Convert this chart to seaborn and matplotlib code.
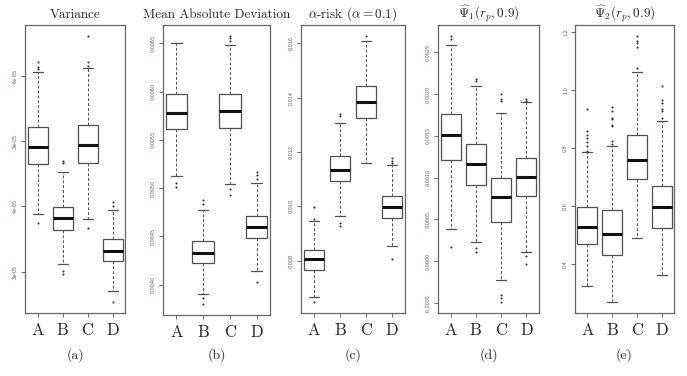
import numpy as np
import pandas as pd
import matplotlib.pyplot as plt
import seaborn as sns

groups = ["A", "B", "C", "D"]

# five-number summaries:
# lower whisker, Q1, median, Q3, upper whisker (one row per group A-D)
var_box = [[3.88e-5, 4.65e-5, 4.91e-5, 5.21e-5, 6.06e-5],
           [3.12e-5, 3.64e-5, 3.82e-5, 3.99e-5, 4.53e-5],
           [3.80e-5, 4.66e-5, 4.93e-5, 5.24e-5, 6.11e-5],
           [2.71e-5, 3.17e-5, 3.32e-5, 3.50e-5, 3.94e-5]]
var_out = [[6.20e-5, 6.13e-5, 6.10e-5, 3.75e-5],
           [4.69e-5, 4.66e-5, 3.005e-5, 2.97e-5],
           [6.61e-5, 6.20e-5, 6.15e-5, 3.66e-5],
           [4.06e-5, 4.01e-5, 2.53e-5]]

mad_box = [[0.005121, 0.005617, 0.005776, 0.005976, 0.006500],
           [0.003900, 0.004224, 0.004331, 0.004452, 0.004776],
           [0.005045, 0.005628, 0.005803, 0.005976, 0.006486],
           [0.004138, 0.004483, 0.004597, 0.004707, 0.005052]]
mad_out = [[0.005052, 0.005010],
           [0.004879, 0.004831, 0.003862, 0.003797],
           [0.006579, 0.006552, 0.006528, 0.004993, 0.004924],
           [0.005166, 0.005138, 0.005097, 0.004028]]

risk_box = [[0.006671, 0.007671, 0.008049, 0.008390, 0.009451],
            [0.009634, 0.010915, 0.011341, 0.011854, 0.013073],
            [0.011585, 0.013256, 0.013841, 0.014415, 0.016098],
            [0.008537, 0.009573, 0.009976, 0.010366, 0.011537]]
risk_out = [[0.009976, 0.009537, 0.006463],
            [0.013378, 0.013305, 0.009366, 0.009268],
            [0.016280],
            [0.011768, 0.011659, 0.011590, 0.008073]]

psi1_box = [[0.000380, 0.001208, 0.001510, 0.001767, 0.002591],
            [0.000234, 0.000915, 0.001169, 0.001406, 0.002092],
            [-0.000226, 0.000471, 0.000765, 0.000994, 0.001775],
            [0.000115, 0.000777, 0.001002, 0.001232, 0.001906]]
psi1_out = [[0.002698, 0.002658, 0.000170],
            [0.002183, 0.002155, 0.000162, 0.000115],
            [0.001997, 0.001945, 0.001918, -0.000400, -0.000440, -0.000491],
            [0.001937, 0.001914, 0.0000633, -0.0000357]]

psi2_box = [[0.325, 0.471, 0.530, 0.597, 0.787],
            [0.269, 0.433, 0.504, 0.589, 0.808],
            [0.490, 0.693, 0.760, 0.845, 1.065],
            [0.365, 0.525, 0.599, 0.671, 0.894]]
psi2_out = [[0.936, 0.859, 0.848, 0.835, 0.822, 0.810, 0.791],
            [0.942, 0.928, 0.905, 0.900, 0.882, 0.876, 0.825, 0.814],
            [1.189, 1.170, 1.162, 1.151, 1.077],
            [1.016, 0.968, 0.957, 0.937, 0.930, 0.905]]

titles = ["Variance", "Mean Absolute Deviation", r"$\alpha$-risk ($\alpha = 0.1$)",
          r"$\widehat{\Psi}_1(r_p, 0.9)$", r"$\widehat{\Psi}_2(r_p, 0.9)$"]
panel_labels = ["(a)", "(b)", "(c)", "(d)", "(e)"]

var_ticks = [3e-5, 4e-5, 5e-5, 6e-5]
var_ticklabels = ["3e-05", "4e-05", "5e-05", "6e-05"]
mad_ticks = [0.0040, 0.0045, 0.0050, 0.0055, 0.0060, 0.0065]
mad_ticklabels = ["0.0040", "0.0045", "0.0050", "0.0055", "0.0060", "0.0065"]
risk_ticks = [0.008, 0.010, 0.012, 0.014, 0.016]
risk_ticklabels = ["0.008", "0.010", "0.012", "0.014", "0.016"]
psi1_ticks = [-0.0005, 0.0, 0.0005, 0.0010, 0.0015, 0.0020, 0.0025]
psi1_ticklabels = ["-0.0005", "0.0000", "0.0005", "0.0010", "0.0015", "0.0020", "0.0025"]
psi2_ticks = [0.4, 0.6, 0.8, 1.0, 1.2]
psi2_ticklabels = ["0.4", "0.6", "0.8", "1.0", "1.2"]


def to_frame(rows):
    recs = []
    for g, vals in zip(groups, rows):
        for v in vals:
            recs.append({"group": g, "value": v})
    return pd.DataFrame(recs)


def main():
    sns.set_style("ticks")
    plt.rcParams['font.family'] = ['cmr10', 'DejaVu Serif']
    plt.rcParams['mathtext.fontset'] = 'cm'
    plt.rcParams['axes.unicode_minus'] = False

    fig = plt.figure(figsize=(6.87, 3.76), dpi=100)

    # axes boxes in pixels: left, top, right, bottom
    boxes = [(25, 25, 125, 313), (163, 25, 270, 315), (301, 25, 405, 313),
             (438, 25, 539, 313), (575, 25, 674, 313)]
    panels = [(var_box, var_out, var_ticks, var_ticklabels),
              (mad_box, mad_out, mad_ticks, mad_ticklabels),
              (risk_box, risk_out, risk_ticks, risk_ticklabels),
              (psi1_box, psi1_out, psi1_ticks, psi1_ticklabels),
              (psi2_box, psi2_out, psi2_ticks, psi2_ticklabels)]

    W, H = 687, 376
    line_col = "#505050"
    for i, (box, out, ticks, ticklabels) in enumerate(panels):
        l, t, r, b = boxes[i]
        ax = fig.add_axes([l / W, 1 - b / H, (r - l) / W, (b - t) / H])

        box_df = to_frame(box)
        out_df = to_frame(out)

        sns.boxplot(data=box_df, x="group", y="value", order=groups, ax=ax,
                    whis=(0, 100), width=0.8, color="white", linecolor=line_col,
                    linewidth=0.9, showfliers=False,
                    medianprops=dict(color="#111111", linewidth=2.2),
                    whiskerprops=dict(linestyle=(0, (3, 2)), linewidth=0.7),
                    capprops=dict(linewidth=0.9))
        sns.stripplot(data=out_df, x="group", y="value", order=groups, ax=ax,
                      jitter=False, color="#333333", size=1.5, linewidth=0)

        allv = np.concatenate([np.ravel(box), np.concatenate([np.ravel(o) for o in out])])
        lo, hi = allv.min(), allv.max()
        pad = 0.04 * (hi - lo)
        ax.set_ylim(lo - pad, hi + pad)
        ax.set_xlim(-0.5, 3.5)

        ax.set_yticks(ticks)
        ax.set_yticklabels(ticklabels, rotation=90, va="center",
                           fontsize=3.5, color="#55559a", family="DejaVu Sans")
        ax.set_xticks(range(len(groups)))
        ax.set_xticklabels(groups, fontsize=12)
        ax.tick_params(axis="y", length=3, width=0.6, color=line_col, pad=2)
        ax.tick_params(axis="x", length=3, width=0.6, color=line_col, pad=4)
        ax.set_xlabel("")
        ax.set_ylabel("")
        for sp in ax.spines.values():
            sp.set_visible(True)
            sp.set_color("#666666")
            sp.set_linewidth(0.9)

        ax.set_title(titles[i], fontsize=9.5, pad=5)
        fig.text((l + r) / 2 / W, 1 - 355 / H, panel_labels[i],
                 ha="center", va="center", fontsize=10)

    plt.savefig("out.png", dpi=100)


if __name__ == "__main__":
    main()
